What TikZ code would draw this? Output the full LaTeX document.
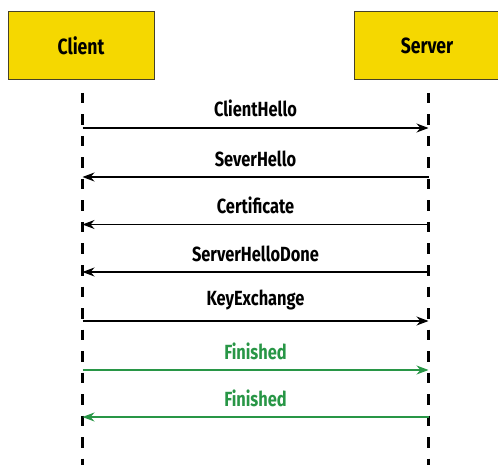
\documentclass[tikz,border=0pt]{standalone}
\usepackage{fontspec}
\setmainfont{Fira Sans}[UprightFont={* Bold}, FakeStretch=0.8]
\usetikzlibrary{arrows.meta}
\definecolor{boxyellow}{RGB}{245,216,0}
\definecolor{boxedge}{RGB}{70,65,40}
\definecolor{msggreen}{RGB}{40,150,70}
\tikzset{
  actor/.style={draw=boxedge, line width=1pt, fill=boxyellow, minimum width=146pt, minimum height=68pt, inner sep=0pt, font=\fontsize{22}{23}\selectfont},
  lifeline/.style={line width=3pt, dash pattern=on 10.5pt off 11pt},
  msg/.style={line width=1.3pt, -{Stealth[length=12pt,width=9pt]}},
  lbl/.style={font=\fontsize{20.5}{21}\selectfont, anchor=base, inner sep=0pt},
  grn/.style={draw=msggreen, text=msggreen}
}
\begin{document}
\begin{tikzpicture}[x=1pt,y=-1pt]
\useasboundingbox (0,0) rectangle (498,465);
\node[actor] (client) at (81,46) {Client};
\node[actor] (server) at (427,46) {Server};
\coordinate (ctop) at (82.5,93);
\coordinate (cbot) at (82.5,466);
\coordinate (stop) at (428.5,93);
\coordinate (sbot) at (428.5,466);
\draw[lifeline] (ctop) -- (cbot);
\draw[lifeline] (stop) -- (sbot);
\foreach \i/\y in {1/128,2/177,3/224.5,4/272,5/321,6/370,7/417}{
  \coordinate (c\i) at (82.5,\y);
  \coordinate (s\i) at (428.5,\y);
}
\draw[msg] (c1) -- (s1) node[lbl, midway, above=10pt] {ClientHello};
\draw[msg] (s2) -- (c2) node[lbl, midway, above=10pt] {SeverHello};
\draw[msg] (s3) -- (c3) node[lbl, midway, above=10pt] {Certificate};
\draw[msg] (s4) -- (c4) node[lbl, midway, above=10pt] {ServerHelloDone};
\draw[msg] (c5) -- (s5) node[lbl, midway, above=10pt] {KeyExchange};
\draw[msg, grn] (c6) -- (s6) node[lbl, midway, above=10pt] {Finished};
\draw[msg, grn] (s7) -- (c7) node[lbl, midway, above=10pt] {Finished};
\end{tikzpicture}
\end{document}
